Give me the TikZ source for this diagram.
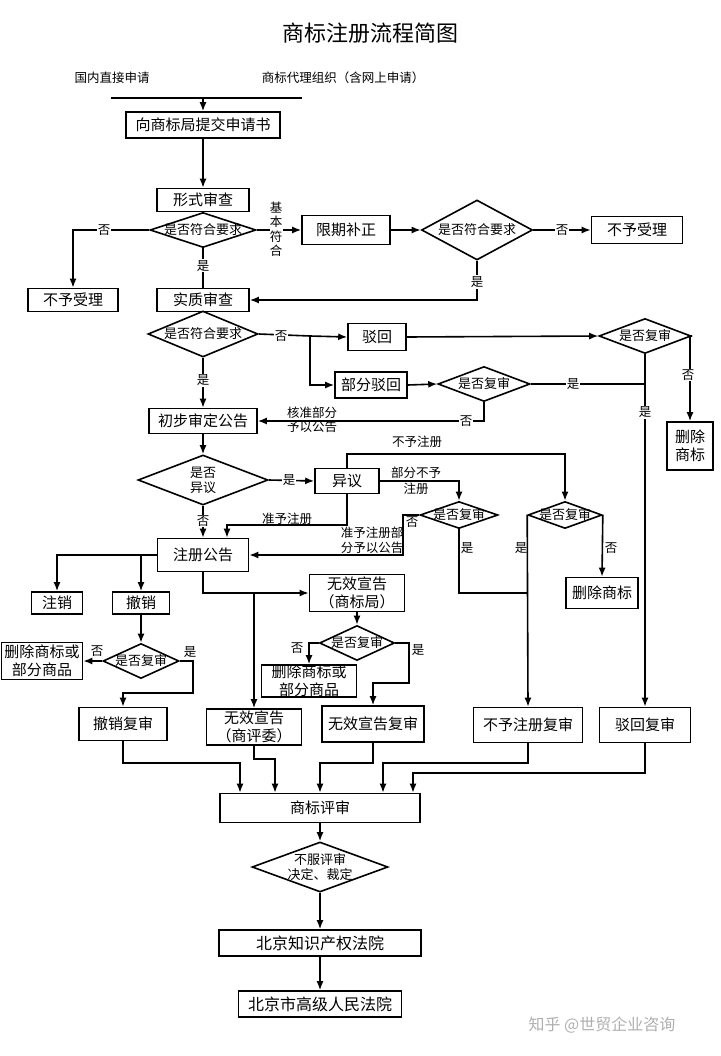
\documentclass[tikz,border=0pt]{standalone}
\usepackage{fontspec}
\setmainfont{Noto Sans CJK SC}
\usepackage{tikz}
\usetikzlibrary{shapes.geometric}
\usetikzlibrary{arrows.meta}
\definecolor{markgray}{RGB}{175,175,175}

\begin{document}
\begin{tikzpicture}[x=1pt,y=-1pt,line width=1.6pt,
	>={Latex[length=9pt,width=7pt]},
	box/.style={draw,inner sep=0pt,align=center,font=\fontsize{15}{18}\selectfont},
	dia/.style={diamond,draw,inner sep=0pt,label={[font=\fontsize{13}{15}\selectfont,align=center]center:#1}},
	lbl/.style={fill=white,inner sep=1pt,font=\fontsize{12.5}{14.5}\selectfont},
	note/.style={inner sep=0pt,align=center,font=\fontsize{12.5}{15}\selectfont}]
		\useasboundingbox (0,0) rectangle (720,1056);
		\node[font=\fontsize{22}{24}\selectfont] (title) at (370,33) {商标注册流程简图};
		\node[note] (src1) at (112,78) {国内直接申请};
		\node[note] (src2) at (343,78) {商标代理组织（含网上申请）};
		\coordinate (barL) at (111,98);
		\coordinate (barR) at (302,98);
		\coordinate (barM) at (203,98);
		
		\node[box,minimum width=154,minimum height=26] (submit) at (203,125) {向商标局提交申请书};
		\node[box,minimum width=92,minimum height=23] (form) at (203,200) {形式审查};
		\node[dia=是否符合要求,minimum width=106,minimum height=35] (q1) at (203,230) {};
		\node[box,minimum width=90,minimum height=23] (reject1) at (73,300) {不予受理};
		\node[box,minimum width=92,minimum height=23] (subst) at (203,300) {实质审查};
		\node[box,minimum width=88,minimum height=29] (fix) at (346,230) {限期补正};
		\node[dia=是否符合要求,minimum width=111,minimum height=60] (q2) at (477,230) {};
		\node[box,minimum width=91,minimum height=27] (reject2) at (637,230) {不予受理};
		
		\draw (barL) -- (barR);
		\draw[->] (barM) -- (submit.north);
		\draw[->] (submit) -- (form);
		\draw[->] (q1.west) -| (reject1.north);
		\node[lbl] at (104,230) {否};
		\draw (q1.south) -- (subst.north);
		\node[lbl] at (203,266) {是};
		\draw[->] (q1.east) -- (fix.west);
		\node[lbl,text width=13pt,align=center,inner sep=0pt] at (276,229) {基\\本\\符\\合};
		\draw[->] (fix.east) -- (q2.west);
		\draw[->] (q2.east) -- (reject2.west);
		\node[lbl] at (562,230) {否};
		\draw[->] (q2.south) |- (subst.east);
		\node[lbl] at (477,282) {是};
		
		\node[dia=是否符合要求,minimum width=110,minimum height=46] (q3) at (203,334) {};
		\node[box,minimum width=58,minimum height=27] (rej) at (377,337) {驳回};
		\node[box,minimum width=72,minimum height=26] (prej) at (371,385) {部分驳回};
		\node[dia=是否复审,minimum width=92,minimum height=35] (q4) at (645,336) {};
		\node[dia=是否复审,minimum width=92,minimum height=35] (q5) at (484,384) {};
		\node[box,minimum width=46,minimum height=48] (del1) at (690,446) {删除\\商标};
		\node[box,minimum width=108,minimum height=25] (prelim) at (203,421) {初步审定公告};
		\coordinate (split) at (310,336);
		
		\draw (q3.east) -- (split);
		\node[lbl] at (281,336) {否};
		\draw[->] (split) -- (rej.west);
		\draw[->] (split) |- (prej.west);
		\draw[->] (rej.east) -- (q4.west);
		\draw[->] (q4.east) -| (del1.north);
		\node[lbl] at (688,375) {否};
		\draw[->] (prej.east) -- (q5.west);
		\draw (q5.east) -- (q5.east -| q4.south);
		\node[lbl] at (573,384) {是};
		\draw[->] (q3.south) -- (prelim.north);
		\node[lbl] at (203,380) {是};
		\draw[->] (q5.south) |- (prelim.east);
		\node[lbl] at (466,421) {否};
		\node[note,font=\fontsize{12.5}{14}\selectfont] at (312,420) {核准部分\\予以公告};
		
		\node[dia={是否\\异议},minimum width=130,minimum height=50] (q6) at (203,480) {};
		\node[box,minimum width=64,minimum height=25] (opp) at (347,481) {异议};
		\node[dia=是否复审,minimum width=78,minimum height=27] (q7) at (459,515) {};
		\node[dia=是否复审,minimum width=74,minimum height=27] (q8) at (565,515) {};
		\node[box,minimum width=72,minimum height=31] (del2) at (602,593) {删除商标};
		\node[box,minimum width=91,minimum height=33] (reg) at (203,555) {注册公告};
		\coordinate (t1) at (347,454);
		\coordinate (c1) at (227,525);
		\coordinate (c3) at (528,593);
		
		\draw[->] (prelim.south) -- (q6.north);
		\draw[->] (q6.east) -- (opp.west);
		\node[lbl] at (289,480) {是};
		\draw[->] (opp.north) -- (t1) -| (q8.north);
		\node[note] at (417,442) {不予注册};
		\draw[->] (opp.east) -| (q7.north);
		\node[note,font=\fontsize{12.5}{16}\selectfont] at (416,481) {部分不予\\注册};
		\draw[->] (q6.south) -- (reg.north);
		\node[lbl] at (203,521) {否};
		\draw[->] (opp.south) |- (c1) -- (c1 |- reg.north);
		\node[note] at (287,519) {准予注册};
		\draw[->] (q7.west) -- ++(-16,0) |- (reg.east);
		\node[note] at (412,522) {否};
		\node[note] at (372,540) {准予注册部\\分予以公告};
		\draw (q7.south) |- (c3);
		\node[note] at (467,548) {是};
		\draw[->] (q8.east) -- (del2.north);
		\node[note] at (611,548) {否};
		\node[note] at (521,548) {是};
		
		\node[box,minimum width=51,minimum height=22] (logout) at (57,603) {注销};
		\node[box,minimum width=57,minimum height=22] (revoke) at (141,603) {撤销};
		\node[dia=是否复审,minimum width=76,minimum height=35] (q9) at (141,661) {};
		\node[box,minimum width=81,minimum height=37] (del3) at (42,661) {删除商标或\\部分商品};
		\node[box,minimum width=88,minimum height=33] (rrev2) at (123,724) {撤销复审};
		\node[box,minimum width=95,minimum height=37] (inv1) at (357,593) {无效宣告\\（商标局）};
		\node[box,minimum width=95,minimum height=36] (inv2) at (254,727) {无效宣告\\（商评委）};
		\node[dia=是否复审,minimum width=75,minimum height=35] (q10) at (357,643) {};
		\node[box,minimum width=95,minimum height=32] (del4) at (309,681) {删除商标或\\部分商品};
		\node[box,minimum width=102,minimum height=36] (irev) at (373,724) {无效宣告复审};
		\node[box,minimum width=109,minimum height=35] (nrev) at (528,725) {不予注册复审};
		\node[box,minimum width=91,minimum height=35] (rrev) at (645,725) {驳回复审};
		\coordinate (k1) at (193,693);
		\coordinate (k2) at (409,683);
		
		\draw[->] (reg.west) -| (logout.north);
		\draw[->] (reg.west -| revoke.north) -- (revoke.north);
		\draw[->] (revoke.south) -- (q9.north);
		\draw[->] (q9.west) -- (del3.east);
		\node[note] at (97,651) {否};
		\draw[->] (q9.east) -| (k1) -| (rrev2.north);
		\node[note] at (190,652) {是};
		\draw[->] (reg.south) |- (inv1.west);
		\draw[->] (inv1.west -| inv2.north) -- (inv2.north);
		\draw[->] (inv1.south) -- (q10.north);
		\draw[->] (q10.west) -| (del4.north);
		\node[note] at (297,648) {否};
		\draw[->] (q10.east) -| (k2) -| (irev.north);
		\node[note] at (418,650) {是};
		\draw[->] (q8.west) -- (nrev.north);
		\draw[->] (q4.south) -- (rrev.north);
		\node[lbl] at (645,412) {是};
		
		\node[box,minimum width=200,minimum height=29] (eval) at (320,808) {商标评审};
		\node[dia={不服评审\\决定、裁定},minimum width=136,minimum height=50] (q11) at (320,867) {};
		\node[box,minimum width=202,minimum height=26,font=\fontsize{16}{18}\selectfont] (court1) at (320,943) {北京知识产权法院};
		\node[box,minimum width=163,minimum height=26,font=\fontsize{16}{18}\selectfont] (court2) at (320,1004) {北京市高级人民法院};
		\coordinate (m1) at (240,763);
		\coordinate (m2) at (275,759);
		\coordinate (m3) at (320,763);
		\coordinate (m4) at (383,763);
		\coordinate (m5) at (413,773);
		
		\draw[->] (rrev2.south) |- (m1) -- (m1 |- eval.north);
		\draw[->] (inv2.south) |- (m2) -- (m2 |- eval.north);
		\draw[->] (irev.south) |- (m3) -- (m3 |- eval.north);
		\draw[->] (nrev.south) |- (m4) -- (m4 |- eval.north);
		\draw[->] (rrev.south) |- (m5) -- (m5 |- eval.north);
		\draw[->] (eval.south) -- (q11.north);
		\draw[->] (q11.south) -- (court1.north);
		\draw[->] (court1.south) -- (court2.north);
		\node[text=markgray,font=\fontsize{16}{18}\selectfont] (mark) at (602,1025) {知乎 @世贸企业咨询};
\end{tikzpicture}
\end{document}
